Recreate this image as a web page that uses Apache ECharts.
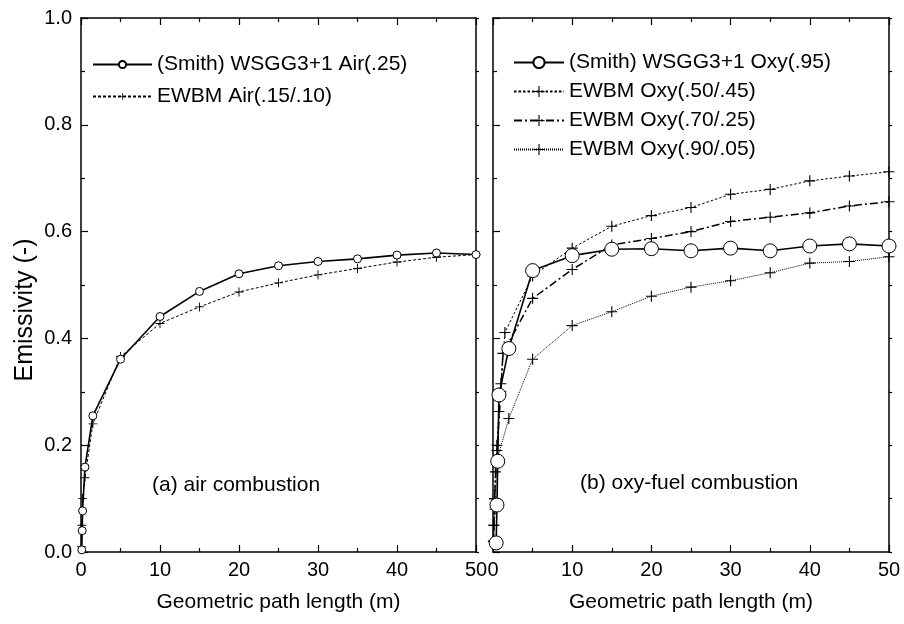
<!DOCTYPE html>
<html>
<head>
<meta charset="utf-8">
<script src="https://cdn.jsdelivr.net/npm/echarts@6/dist/echarts.min.js"></script>
<style>
  html, body { margin: 0; padding: 0; background: #fff; }
  #chart { width: 904px; height: 624px; }
</style>
</head>
<body>
<div id="chart"></div>
<script>
// Panel (a): air combustion
const airSmithX = [0.1, 0.15, 0.2, 0.5, 1.5, 5, 10, 15, 20, 25, 30, 35, 40, 45, 50];
const airSmithY = [0.004, 0.04, 0.077, 0.159, 0.255, 0.361, 0.441, 0.488, 0.521, 0.536, 0.544, 0.549, 0.556, 0.560, 0.557];
const airEwbmX = [0.05, 0.1, 0.2, 0.5, 1.5, 5, 10, 15, 20, 25, 30, 35, 40, 45, 50];
const airEwbmY = [0.01, 0.05, 0.10, 0.139, 0.24, 0.366, 0.428, 0.459, 0.487, 0.504, 0.519, 0.531, 0.543, 0.552, 0.557];

// Panel (b): oxy-fuel combustion
const oxySmithX = [0.4, 0.5, 0.6, 0.75, 2, 5, 10, 15, 20, 25, 30, 35, 40, 45, 50];
const oxySmithY = [0.017, 0.088, 0.17, 0.294, 0.381, 0.527, 0.555, 0.567, 0.568, 0.564, 0.569, 0.564, 0.573, 0.577, 0.573];
const oxy50X = [0.05, 0.1, 0.2, 0.3, 0.5, 0.75, 1, 1.5, 5, 10, 15, 20, 25, 30, 35, 40, 45, 50];
const oxy50Y = [0.02, 0.05, 0.10, 0.15, 0.20, 0.263, 0.315, 0.411, 0.517, 0.569, 0.610, 0.630, 0.645, 0.670, 0.679, 0.695, 0.704, 0.712];
const oxy70X = [0.05, 0.1, 0.2, 0.5, 1, 1.25, 5, 10, 15, 20, 25, 30, 35, 40, 45, 50];
const oxy70Y = [0.02, 0.05, 0.10, 0.19, 0.30, 0.372, 0.475, 0.529, 0.575, 0.587, 0.600, 0.619, 0.627, 0.635, 0.648, 0.656];
const oxy90X = [0.1, 0.25, 0.5, 2, 5, 10, 15, 20, 25, 30, 35, 40, 45, 50];
const oxy90Y = [0.02, 0.08, 0.172, 0.25, 0.361, 0.424, 0.450, 0.479, 0.496, 0.508, 0.523, 0.541, 0.544, 0.553];

const xTicks = { min: 0, max: 50, interval: 10 };
const yTicks = { min: 0, max: 1, interval: 0.2 };

const seriesNames = {
  airSmith: '(Smith) WSGG3+1 Air(.25)',
  airEwbm: 'EWBM Air(.15/.10)',
  oxySmith: '(Smith) WSGG3+1 Oxy(.95)',
  oxy50: 'EWBM Oxy(.50/.45)',
  oxy70: 'EWBM Oxy(.70/.25)',
  oxy90: 'EWBM Oxy(.90/.05)'
};
const axisTitleX = 'Geometric path length (m)';
const axisTitleY = 'Emissivity (-)';
const panelNotes = ['(a) air combustion', '(b) oxy-fuel combustion'];

const FONT = '"Liberation Sans", Arial, Helvetica, sans-serif';
const pair = (xs, ys) => xs.map((x, i) => [x, ys[i]]);
const PLUS = 'path://M4.5,0h1v10h-1z M0,4.5h10v1h-10z';

const grids = [
  { left: 81, top: 18, width: 395, height: 534 },
  { left: 493, top: 18, width: 396, height: 534 }
];

function xAxisFor(gi, pos, showLabels) {
  return {
    type: 'value', gridIndex: gi, position: pos,
    min: xTicks.min, max: xTicks.max, interval: xTicks.interval,
    name: showLabels ? axisTitleX : '', nameLocation: 'middle', nameGap: 40,
    nameTextStyle: { fontFamily: FONT, fontSize: 21, color: '#000' },
    axisLine: { show: true, onZero: false, lineStyle: { color: '#000', width: 1.5 } },
    axisTick: { show: true, inside: true, length: 7, lineStyle: { color: '#000', width: 1.2 } },
    minorTick: { show: true, splitNumber: 2, length: 4, lineStyle: { color: '#000', width: 1.2 } },
    axisLabel: { show: showLabels, fontFamily: FONT, fontSize: 20, color: '#000', margin: 8 },
    splitLine: { show: false }
  };
}
function yAxisFor(gi, pos, showLabels) {
  const outer = pos === 'right';
  return {
    type: 'value', gridIndex: gi, position: pos,
    min: yTicks.min, max: yTicks.max, interval: yTicks.interval,
    axisLine: { show: true, onZero: false, lineStyle: { color: '#000', width: 1.5 } },
    axisTick: { show: true, inside: !outer, length: outer ? 3 : 7, lineStyle: { color: '#000', width: 1.2 } },
    minorTick: { show: true, splitNumber: 2, length: outer ? 3 : 4, lineStyle: { color: '#000', width: 1.2 } },
    axisLabel: { show: showLabels, fontFamily: FONT, fontSize: 20, color: '#000', margin: 9,
                 formatter: v => v.toFixed(1) },
    splitLine: { show: false }
  };
}

const chart = echarts.init(document.getElementById('chart'), null, { renderer: 'canvas' });

const option = {
  backgroundColor: '#fff',
  animation: false,
  grid: grids,
  xAxis: [
    xAxisFor(0, 'bottom', true), xAxisFor(0, 'top', false),
    xAxisFor(1, 'bottom', true), xAxisFor(1, 'top', false)
  ],
  yAxis: [
    yAxisFor(0, 'left', true), yAxisFor(0, 'right', false),
    yAxisFor(1, 'left', false), yAxisFor(1, 'right', false)
  ],
  legend: [
    {
      data: [seriesNames.airSmith, seriesNames.airEwbm],
      orient: 'vertical', left: 92, top: 54, itemGap: 11, padding: 0,
      itemWidth: 59, itemHeight: 9,
      textStyle: { fontFamily: FONT, fontSize: 21, color: '#000' },
      selectedMode: false
    },
    {
      data: [seriesNames.oxySmith, seriesNames.oxy50, seriesNames.oxy70, seriesNames.oxy90],
      orient: 'vertical', left: 513, top: 52, itemGap: 8, padding: 0,
      itemWidth: 50, itemHeight: 14,
      textStyle: { fontFamily: FONT, fontSize: 21, color: '#000' },
      selectedMode: false
    }
  ],
  graphic: [
    // vertical axis title, reading bottom to top
    { type: 'text', x: 25, y: 310, rotation: Math.PI / 2,
      style: { text: axisTitleY, font: '25px ' + FONT, fill: '#000', align: 'center', verticalAlign: 'middle' } },
    { type: 'text', x: 152, y: 485,
      style: { text: panelNotes[0], font: '21px ' + FONT, fill: '#000', verticalAlign: 'middle' } },
    { type: 'text', x: 580, y: 483,
      style: { text: panelNotes[1], font: '21px ' + FONT, fill: '#000', verticalAlign: 'middle' } }
  ],
  series: [
    {
      name: seriesNames.airEwbm, type: 'line', xAxisIndex: 0, yAxisIndex: 0,
      data: pair(airEwbmX, airEwbmY),
      symbol: PLUS, symbolSize: 9, itemStyle: { color: '#000' },
      lineStyle: { color: '#000', width: 1, type: [3, 2] }
    },
    {
      name: seriesNames.airSmith, type: 'line', xAxisIndex: 0, yAxisIndex: 0,
      data: pair(airSmithX, airSmithY),
      symbol: 'circle', symbolSize: 8,
      itemStyle: { color: '#fff', borderColor: '#000', borderWidth: 1 },
      lineStyle: { color: '#000', width: 1.6 }
    },
    {
      name: seriesNames.oxy50, type: 'line', xAxisIndex: 2, yAxisIndex: 2,
      data: pair(oxy50X, oxy50Y),
      symbol: PLUS, symbolSize: 11, itemStyle: { color: '#000' },
      lineStyle: { color: '#000', width: 1, type: [2.5, 2] }
    },
    {
      name: seriesNames.oxy70, type: 'line', xAxisIndex: 2, yAxisIndex: 2,
      data: pair(oxy70X, oxy70Y),
      symbol: PLUS, symbolSize: 11, itemStyle: { color: '#000' },
      lineStyle: { color: '#000', width: 1.5, type: [8, 3, 2, 3] }
    },
    {
      name: seriesNames.oxy90, type: 'line', xAxisIndex: 2, yAxisIndex: 2,
      data: pair(oxy90X, oxy90Y),
      symbol: PLUS, symbolSize: 11, itemStyle: { color: '#000' },
      lineStyle: { color: '#000', width: 1, type: [1, 1] }
    },
    {
      name: seriesNames.oxySmith, type: 'line', xAxisIndex: 2, yAxisIndex: 2,
      data: pair(oxySmithX, oxySmithY),
      symbol: 'circle', symbolSize: 14,
      itemStyle: { color: '#fff', borderColor: '#000', borderWidth: 1 },
      lineStyle: { color: '#000', width: 1.6 }
    }
  ]
};

chart.setOption(option);
</script>
</body>
</html>
